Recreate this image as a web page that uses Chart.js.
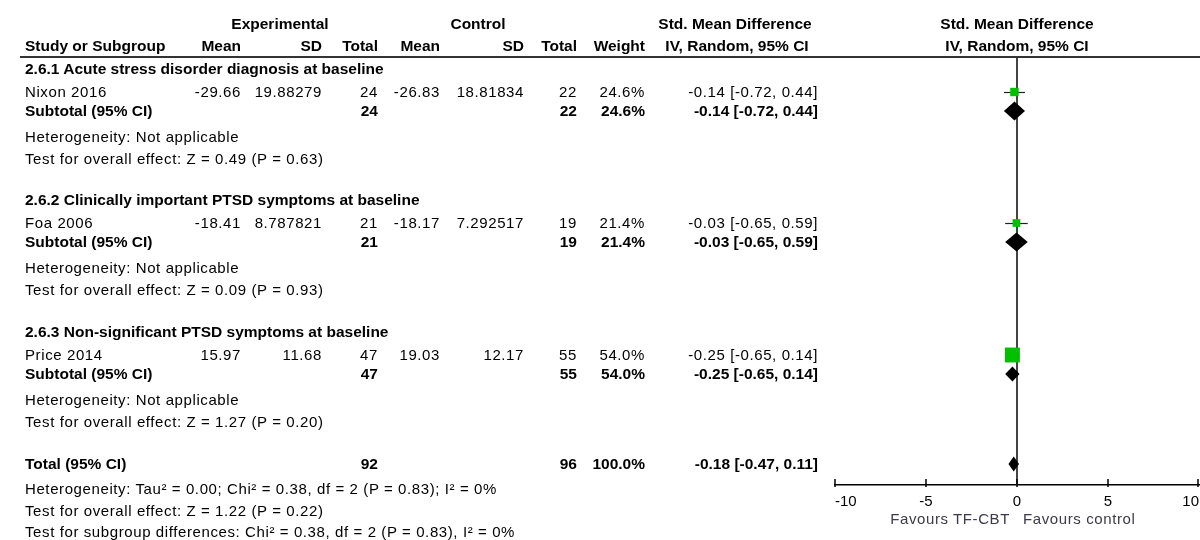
<!DOCTYPE html>
<html>
<head>
<meta charset="utf-8">
<script src="https://cdn.jsdelivr.net/npm/chart.js@4.4.1/dist/chart.umd.min.js"></script>
<style>
html, body { margin: 0; padding: 0; background: #fff; }
#wrap { position: relative; width: 1200px; height: 540px; overflow: hidden;
        font-family: "Liberation Sans", Arial, sans-serif; color: #000; }
#plot { position: absolute; left: 0; top: 0; }
.t { position: absolute; font-size: 15px; line-height: 18px; letter-spacing: 0.6px; white-space: nowrap; }
.b { font-weight: bold; font-size: 15.5px; letter-spacing: 0; }
.fav { color: #3a3a48; }
#rule { position: absolute; left: 20px; right: 0; top: 56px; height: 2px; background: #333; }
</style>
</head>
<body>
<div id="wrap">
  <canvas id="plot" width="1200" height="540"></canvas>
  <div id="rule"></div>
</div>
<script>
// ---- data ----
var subgroups = ['2.6.1 Acute stress disorder diagnosis at baseline',
                 '2.6.2 Clinically important PTSD symptoms at baseline',
                 '2.6.3 Non-significant PTSD symptoms at baseline'];
var studies  = ['Nixon 2016', 'Foa 2006', 'Price 2014'];
var expMean  = [-29.66, -18.41, 15.97];
var expSD    = [19.88279, 8.787821, 11.68];
var expN     = [24, 21, 47];
var ctlMean  = [-26.83, -18.17, 19.03];
var ctlSD    = [18.81834, 7.292517, 12.17];
var ctlN     = [22, 19, 55];
var weight   = [24.6, 21.4, 54.0];
var smd      = [-0.14, -0.03, -0.25];
var ciLow    = [-0.72, -0.65, -0.65];
var ciHigh   = [0.44, 0.59, 0.14];

// subgroup subtotals (one study per subgroup)
var subSmd   = [-0.14, -0.03, -0.25];
var subLow   = [-0.72, -0.65, -0.65];
var subHigh  = [0.44, 0.59, 0.14];
var subZ     = ['0.49', '0.09', '1.27'];
var subP     = ['0.63', '0.93', '0.20'];

var totalN    = [92, 96];
var totalSmd  = -0.18, totalLow = -0.47, totalHigh = 0.11;
var totalNotes = ['Heterogeneity: Tau\u00b2 = 0.00; Chi\u00b2 = 0.38, df = 2 (P = 0.83); I\u00b2 = 0%',
                  'Test for overall effect: Z = 1.22 (P = 0.22)',
                  'Test for subgroup differences: Chi\u00b2 = 0.38, df = 2 (P = 0.83), I\u00b2 = 0%'];

var colLabels = ['Mean', 'SD', 'Total', 'Mean', 'SD', 'Total', 'Weight'];
var xTicks    = [-10, -5, 0, 5, 10];
var favours   = ['Favours TF-CBT', 'Favours control'];

// ---- layout (page pixels) ----
var secTop = [69, 200, 332];
var totalRows = [464, 489, 511, 532];
var colRight = [241, 322, 378, 440, 524, 577, 645];
var ciRight = 818;
var diamondHalf = [9.5, 9.5, 7.5, 7.5];

function studyY(i) { return secTop[i] + 23; }
function subY(i) { return secTop[i] + 42; }

var wrap = document.getElementById('wrap');

function put(text, x, y, align, bold, extra) {
    var d = document.createElement('div');
    d.className = 't' + (bold ? ' b' : '') + (extra ? ' ' + extra : '');
    d.textContent = text;
    d.style.top = (y - 9) + 'px';
    if (align === 'right') { d.style.left = (x - 500) + 'px'; d.style.width = '500px'; d.style.textAlign = 'right'; }
    else if (align === 'center') { d.style.left = (x - 250) + 'px'; d.style.width = '500px'; d.style.textAlign = 'center'; }
    else d.style.left = x + 'px';
    wrap.appendChild(d);
}

function ci(e, lo, hi) { return e.toFixed(2) + ' [' + lo.toFixed(2) + ', ' + hi.toFixed(2) + ']'; }

// header
put('Experimental', 280, 24, 'center', true);
put('Control', 478, 24, 'center', true);
put('Std. Mean Difference', 735, 24, 'center', true);
put('Std. Mean Difference', 1017, 24, 'center', true);
put('Study or Subgroup', 25, 46, 'left', true);
colLabels.forEach(function (c, k) { put(c, colRight[k], 46, 'right', true); });
put('IV, Random, 95% CI', 737, 46, 'center', true);
put('IV, Random, 95% CI', 1017, 46, 'center', true);

// subgroups
subgroups.forEach(function (g, i) {
    put(g, 25, secTop[i], 'left', true);
    var y = studyY(i);
    put(studies[i], 25, y, 'left');
    [expMean[i], expSD[i], expN[i], ctlMean[i], ctlSD[i], ctlN[i]].forEach(function (v, k) {
        put(String(v), colRight[k], y, 'right');
    });
    put(weight[i].toFixed(1) + '%', colRight[6], y, 'right');
    put(ci(smd[i], ciLow[i], ciHigh[i]), ciRight, y, 'right');

    y = subY(i);
    put('Subtotal (95% CI)', 25, y, 'left', true);
    put(String(expN[i]), colRight[2], y, 'right', true);
    put(String(ctlN[i]), colRight[5], y, 'right', true);
    put(weight[i].toFixed(1) + '%', colRight[6], y, 'right', true);
    put(ci(subSmd[i], subLow[i], subHigh[i]), ciRight, y, 'right', true);

    put('Heterogeneity: Not applicable', 25, secTop[i] + 68, 'left');
    put('Test for overall effect: Z = ' + subZ[i] + ' (P = ' + subP[i] + ')', 25, secTop[i] + 90, 'left');
});

// total
put('Total (95% CI)', 25, totalRows[0], 'left', true);
put(String(totalN[0]), colRight[2], totalRows[0], 'right', true);
put(String(totalN[1]), colRight[5], totalRows[0], 'right', true);
put('100.0%', colRight[6], totalRows[0], 'right', true);
put(ci(totalSmd, totalLow, totalHigh), ciRight, totalRows[0], 'right', true);
totalNotes.forEach(function (n, k) { put(n, 25, totalRows[k + 1], 'left'); });

// zero line, whiskers, diamonds, tick marks
var forestMarks = {
    id: 'forestMarks',
    beforeDatasetsDraw: function (chart) {
        var ctx = chart.ctx, area = chart.chartArea, x = chart.scales.x, y = chart.scales.y;
        ctx.save();
        var x0 = Math.round(x.getPixelForValue(0));
        ctx.strokeStyle = '#444';
        ctx.lineWidth = 2;
        ctx.beginPath(); ctx.moveTo(x0, area.top); ctx.lineTo(x0, area.bottom); ctx.stroke();

        ctx.strokeStyle = '#222';
        ctx.lineWidth = 1.2;
        studies.forEach(function (s, i) {
            var py = Math.round(y.getPixelForValue(studyY(i))) + 0.5;
            ctx.beginPath();
            ctx.moveTo(x.getPixelForValue(ciLow[i]), py);
            ctx.lineTo(x.getPixelForValue(ciHigh[i]), py);
            ctx.stroke();
        });

        ctx.strokeStyle = '#000';
        ctx.lineWidth = 1.5;
        xTicks.forEach(function (t) {
            var px = Math.round(x.getPixelForValue(t));
            if (t === xTicks[xTicks.length - 1]) px -= 1;
            ctx.beginPath(); ctx.moveTo(px, area.bottom - 6); ctx.lineTo(px, area.bottom + 2); ctx.stroke();
        });
        ctx.restore();
    },
    afterDatasetsDraw: function (chart) {
        var ctx = chart.ctx, x = chart.scales.x, y = chart.scales.y;
        var marks = subgroups.map(function (g, i) { return [subSmd[i], subLow[i], subHigh[i], subY(i)]; });
        marks.push([totalSmd, totalLow, totalHigh, totalRows[0]]);
        ctx.save();
        ctx.fillStyle = '#000';
        marks.forEach(function (m, k) {
            var cx = x.getPixelForValue(m[0]), lo = x.getPixelForValue(m[1]), hi = x.getPixelForValue(m[2]);
            var cy = y.getPixelForValue(m[3]), h = diamondHalf[k];
            ctx.beginPath();
            ctx.moveTo(lo, cy); ctx.lineTo(cx, cy - h); ctx.lineTo(hi, cy); ctx.lineTo(cx, cy + h);
            ctx.closePath(); ctx.fill();
        });
        ctx.restore();
    }
};

var chart = new Chart(document.getElementById('plot'), {
    type: 'scatter',
    data: {
        datasets: [{
            data: studies.map(function (s, i) { return { x: smd[i], y: studyY(i) }; }),
            pointStyle: 'rect',
            pointRadius: weight.map(function (w) { return (3 + w * 0.22) / Math.SQRT2; }),
            backgroundColor: '#00c000',
            borderWidth: 0
        }]
    },
    options: {
        responsive: false,
        animation: false,
        events: [],
        devicePixelRatio: 1,
        layout: { autoPadding: false, padding: { left: 835, right: 1, top: 57, bottom: 0 } },
        plugins: { legend: { display: false }, tooltip: { enabled: false } },
        scales: {
            x: {
                type: 'linear', min: -10, max: 10,
                afterBuildTicks: function (s) { s.ticks = xTicks.map(function (v) { return { value: v }; }); },
                afterFit: function (s) { s.height = 55; s.paddingLeft = 0; s.paddingRight = 0; },
                grid: { display: false, drawTicks: false },
                border: { display: true, color: '#000', width: 1.5 },
                ticks: { align: 'inner', padding: 8, color: '#000', maxRotation: 0,
                         font: { family: '"Liberation Sans", Arial, sans-serif', size: 15 } }
            },
            y: { type: 'linear', min: 57, max: 485, reverse: true, display: false }
        }
    },
    plugins: [forestMarks]
});

var zx = chart.scales.x.getPixelForValue(0);
put(favours[0], zx - 7, 519, 'right', false, 'fav');
put(favours[1], zx + 6, 519, 'left', false, 'fav');
</script>
</body>
</html>
